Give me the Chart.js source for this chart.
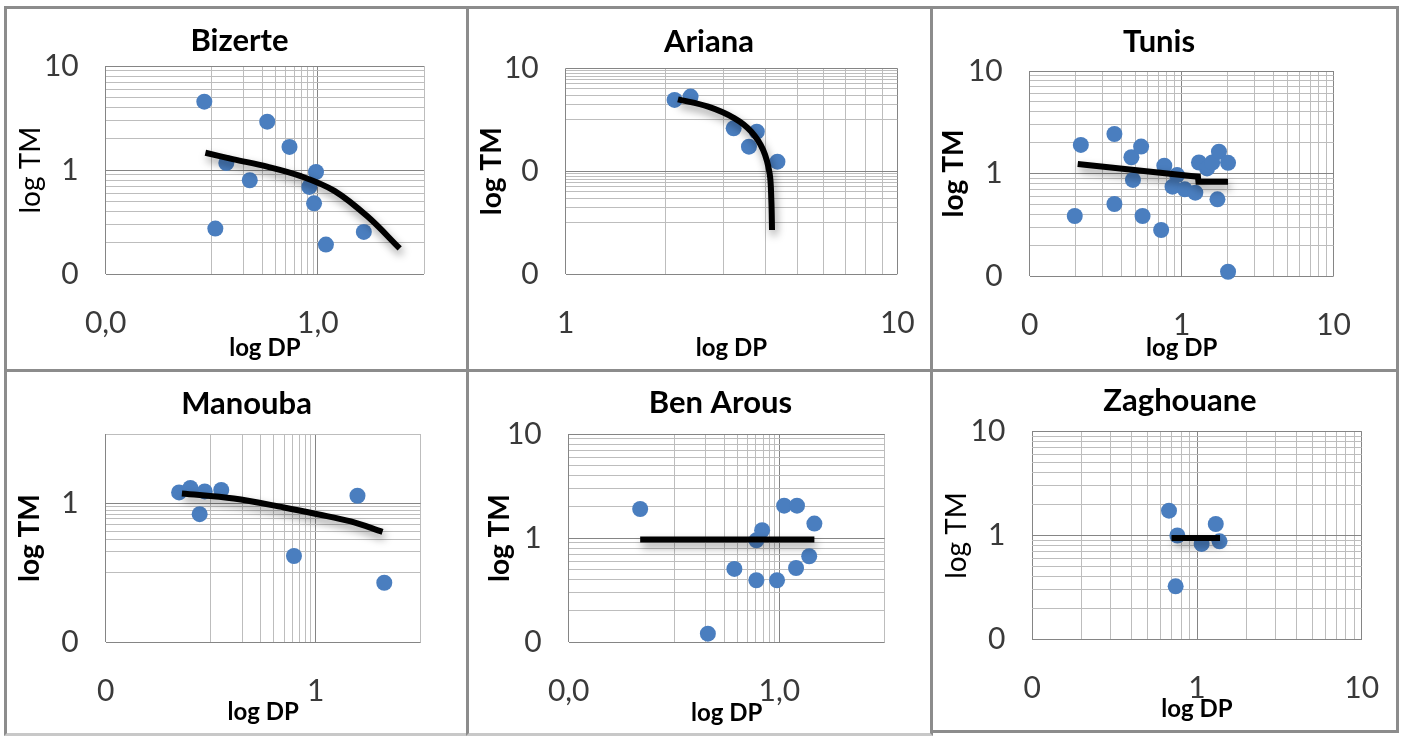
<!DOCTYPE html>
<html><head><meta charset="utf-8">
<script src="https://cdn.jsdelivr.net/npm/chart.js@4.4.1/dist/chart.umd.min.js"></script>
<style>
html,body{margin:0;padding:0;background:#fff;overflow:hidden;width:1407px;height:736px;}
.cell{position:absolute;box-sizing:border-box;border:3px solid #8c8c8c;}
canvas{position:absolute;}
</style></head><body>
<div class="cell" style="left:4px;top:6px;width:465px;height:366px"></div>
<div class="cell" style="left:466px;top:6px;width:467px;height:366px"></div>
<div class="cell" style="left:930px;top:6px;width:469px;height:366px"></div>
<div class="cell" style="left:4px;top:369px;width:465px;height:367px;border-bottom-color:#c8c8c8"></div>
<div class="cell" style="left:466px;top:369px;width:467px;height:367px;border-bottom-color:#c8c8c8"></div>
<div class="cell" style="left:930px;top:369px;width:469px;height:364px"></div>
<script>
// ---------- data ----------
const bizerteX = [0.085, 0.137, 0.228, 0.108, 0.333, 0.54, 0.96, 0.83, 0.92, 1.19, 2.71];
const bizerteY = [4.54, 1.17, 0.80, 0.275, 2.92, 1.67, 0.96, 0.69, 0.48, 0.193, 0.255];
const bizerteTrendX = [0.087, 0.161, 0.333, 0.69, 1.43, 2.96, 5.9];
const bizerteTrendY = [1.47, 1.27, 1.08, 0.875, 0.632, 0.356, 0.177];

const arianaX = [2.13, 2.38, 3.21, 3.77, 3.57, 4.35];
const arianaY = [2.43, 2.82, 0.684, 0.589, 0.301, 0.154];
const arianaTrendX = [2.18, 2.69, 3.23, 3.63, 3.94, 4.12, 4.17, 4.19];
const arianaTrendY = [2.50, 1.80, 1.07, 0.589, 0.26, 0.0914, 0.0277, 0.00726];

const tunisX = [0.217, 0.198, 0.361, 0.361, 0.467, 0.541, 0.478, 0.553, 0.733, 0.769, 0.871, 0.933, 1.048, 1.23, 1.30, 1.47, 1.59, 1.76, 2.02, 1.72, 2.02];
const tunisY = [1.90, 0.385, 2.43, 0.504, 1.44, 1.83, 0.865, 0.385, 0.281, 1.19, 0.744, 0.966, 0.701, 0.65, 1.28, 1.12, 1.28, 1.63, 1.27, 0.56, 0.110];
const tunisTrendX = [0.207, 1.28, 1.29, 2.02];
const tunisTrendY = [1.24, 0.931, 0.832, 0.832];

const manoubaX = [0.050, 0.064, 0.0877, 0.126, 0.0785, 0.621, 2.50, 4.50];
const manoubaY = [1.44, 1.67, 1.49, 1.56, 0.70, 0.175, 1.29, 0.072];
const manoubaTrendX = [0.0532, 0.166, 0.498, 1.04, 2.16, 4.33];
const manoubaTrendY = [1.395, 1.18, 0.875, 0.70, 0.55, 0.389];

const benArousX = [0.0477, 0.2095, 0.374, 0.605, 0.605, 0.686, 0.95, 1.11, 1.47, 1.44, 1.92, 2.15];
const benArousY = [1.905, 0.121, 0.506, 0.394, 0.953, 1.19, 0.394, 2.05, 2.05, 0.517, 0.67, 1.38];
const benArousTrendX = [0.0477, 2.15];
const benArousTrendY = [0.968, 0.968];

const zaghouaneX = [0.676, 0.76, 0.742, 1.067, 1.30, 1.37];
const zaghouaneY = [1.73, 1.0, 0.325, 0.83, 1.29, 0.88];
const zaghouaneTrendX = [0.70, 1.38];
const zaghouaneTrendY = [0.946, 0.946];

// tick labels
const ticksComma2 = [0.01, 1];      const ticksComma2Text = ['0,0', '1,0'];
const ticksInt2 = [0.01, 1];        const ticksInt2Text = ['0', '1'];
const ticksDec3 = [0.1, 1, 10];     const ticksDec3Text = ['0', '1', '10'];
const ticks1to10 = [1, 10];         const ticks1to10Text = ['1', '10'];
const ticksAriY = [0.001, 0.1, 10]; const ticksAriYText = ['0', '0', '10'];

// gridline sets
function decade(k) { return [1,2,3,4,5,6,7,8,9].map(m => parseFloat(m + 'e' + k)); }
const gridHalf = [0.01].concat(decade(-1), [1, 10]);            // 0.01..10, minor lines in 0.1-1
const gridFull2 = decade(-1).concat(decade(0), [10]);           // 0.1..10 full
const gridOne = decade(0).concat([10]);                         // 1..10
const gridAriY = [0.001].concat(decade(-2), [0.1], decade(0), [10]);

// ---------- panel layout (page pixels) ----------
const panels = [
  { title:'Bizerte', px:bizerteX, py:bizerteY, tx:bizerteTrendX, ty:bizerteTrendY, tension:0.35,
    x:{min:0.01,max:10,grid:gridHalf,tv:ticksComma2,tt:ticksComma2Text},
    y:{min:0.1,max:10,grid:gridFull2,tv:ticksDec3,tt:ticksDec3Text}, yBold:false,
    lay:{cx:7,cy:9,cw:465,ch:360,L:105.7,R:424,T:66,B:274.3,titleY:41,yTitleX:31.2,xTitleY:348} },
  { title:'Ariana', px:arianaX, py:arianaY, tx:arianaTrendX, ty:arianaTrendY, tension:0.35,
    x:{min:1,max:10,grid:gridOne,tv:ticks1to10,tt:ticks1to10Text},
    y:{min:0.001,max:10,grid:gridAriY,tv:ticksAriY,tt:ticksAriYText}, yBold:true,
    lay:{cx:469,cy:9,cw:480,ch:360,L:565.7,R:897.3,T:68.3,B:274.3,titleY:41.5,yTitleX:492,xTitleY:348} },
  { title:'Tunis', px:tunisX, py:tunisY, tx:tunisTrendX, ty:tunisTrendY, tension:0,
    x:{min:0.1,max:10,grid:gridFull2,tv:ticksDec3,tt:ticksDec3Text},
    y:{min:0.1,max:10,grid:gridFull2,tv:ticksDec3,tt:ticksDec3Text}, yBold:true,
    lay:{cx:933,cy:9,cw:452,ch:360,L:1029.7,R:1361.7,T:71,B:276,titleY:42,yTitleX:954,xTitleY:348} },
  { title:'Manouba', px:manoubaX, py:manoubaY, tx:manoubaTrendX, ty:manoubaTrendY, tension:0.35,
    x:{min:0.01,max:10,grid:gridHalf,tv:ticksInt2,tt:ticksInt2Text},
    y:{min:0.01,max:10,grid:gridHalf,tv:ticksInt2,tt:ticksInt2Text}, yBold:true,
    lay:{cx:7,cy:372,cw:479,ch:360,L:105.7,R:420.7,T:434,B:642.3,titleY:404,yTitleX:30,xTitleY:712} },
  { title:'Ben Arous', px:benArousX, py:benArousY, tx:benArousTrendX, ty:benArousTrendY, tension:0,
    x:{min:0.01,max:10,grid:gridHalf,tv:ticksComma2,tt:ticksComma2Text},
    y:{min:0.1,max:10,grid:gridFull2,tv:ticksDec3,tt:ticksDec3Text}, yBold:true,
    lay:{cx:469,cy:372,cw:503,ch:360,L:568.7,R:884.7,T:434,B:642.3,titleY:403,yTitleX:499.7,xTitleY:713} },
  { title:'Zaghouane', px:zaghouaneX, py:zaghouaneY, tx:zaghouaneTrendX, ty:zaghouaneTrendY, tension:0,
    x:{min:0.1,max:10,grid:gridFull2,tv:ticksDec3,tt:ticksDec3Text},
    y:{min:0.1,max:10,grid:gridFull2,tv:ticksDec3,tt:ticksDec3Text}, yBold:false,
    lay:{cx:933,cy:372,cw:494,ch:360,L:1032.3,R:1361.7,T:431.3,B:639.7,titleY:401,yTitleX:957.3,xTitleY:709.5} }
];

Chart.defaults.font.family = 'Lato';

const shadowPlugin = {
  id: 'trendShadow',
  beforeDatasetDraw(chart, args) {
    if (chart.data.datasets[args.index].isTrend) {
      const c = chart.ctx; c.save();
      c.shadowColor = 'rgba(0,0,0,0.4)'; c.shadowBlur = 8; c.shadowOffsetX = 2; c.shadowOffsetY = 5;
    }
  },
  afterDatasetDraw(chart, args) {
    if (chart.data.datasets[args.index].isTrend) chart.ctx.restore();
  }
};

const TITLE_SIZE = 31, TITLE_LH = 1.2, TICK_SIZE = 30, XT_SIZE = 24, YT_SIZE = 28;

function axisOpts(a, isX, lay, bold) {
  return {
    type: 'logarithmic', min: a.min, max: a.max, position: isX ? 'bottom' : 'left',
    afterBuildTicks: s => { s.ticks = a.grid.map(v => ({ value: v })); },
    afterFit: s => { if (isX) s.height = lay.cy + lay.ch - lay.B; else s.width = lay.L - lay.cx; },
    grid: { drawTicks: false, lineWidth: 1,
      color: c => (c.tick && a.tv.indexOf(c.tick.value) >= 0) ? '#858585' : '#bdbdbd' },
    border: { display: false },
    ticks: { autoSkip: false, maxRotation: 0, minRotation: 0, padding: isX ? 34 : 27,
      color: '#3a3a3a', font: { size: TICK_SIZE, lineHeight: 1 },
      callback: v => { const i = a.tv.indexOf(v); return i < 0 ? '' : a.tt[i]; } },
    title: { display: true, text: isX ? 'log DP' : 'log TM', color: '#000',
      font: { size: isX ? XT_SIZE : YT_SIZE, weight: bold ? 'bold' : 'normal', lineHeight: 1 },
      padding: isX ? { top: 0, bottom: (lay.cy + lay.ch - lay.xTitleY) - XT_SIZE / 2 }
                   : { top: (lay.yTitleX - lay.cx) - YT_SIZE / 2, bottom: 0 } }
  };
}

panels.forEach(p => {
  const lay = p.lay;
  const cv = document.createElement('canvas');
  cv.width = lay.cw; cv.height = lay.ch;
  cv.style.left = lay.cx + 'px'; cv.style.top = lay.cy + 'px';
  cv.style.width = lay.cw + 'px'; cv.style.height = lay.ch + 'px';
  document.body.appendChild(cv);
  const tPad = lay.titleY - lay.cy - TITLE_SIZE * TITLE_LH / 2;
  const bPad = (lay.T - lay.cy) - TITLE_SIZE * TITLE_LH - tPad;
  new Chart(cv, {
    type: 'scatter',
    data: { datasets: [
      { data: p.tx.map((x, i) => ({ x, y: p.ty[i] })), showLine: true, borderColor: '#000', backgroundColor: '#000',
        borderWidth: 6, pointRadius: 0, tension: p.tension, order: 0, clip: false, isTrend: true },
      { data: p.px.map((x, i) => ({ x, y: p.py[i] })), backgroundColor: '#4a7ebf', borderWidth: 0,
        pointRadius: 8, pointHoverRadius: 8, order: 1, clip: false }
    ]},
    options: {
      responsive: false, animation: false, devicePixelRatio: 1, events: [],
      layout: { padding: { left: 0, top: 0, right: 0, bottom: 0 } },
      plugins: {
        legend: { display: false }, tooltip: { enabled: false },
        title: { display: true, text: p.title, color: '#000', fullSize: true,
          font: { size: TITLE_SIZE, weight: 'bold', lineHeight: TITLE_LH }, padding: { top: tPad, bottom: bPad } }
      },
      scales: {
        x: axisOpts(p.x, true, lay, true),
        y: axisOpts(p.y, false, lay, p.yBold),
        yRight: { axis: 'y', type: 'linear', position: 'right', display: true,
          grid: { display: false }, ticks: { display: false }, border: { display: false },
          afterFit: s => { s.width = lay.cx + lay.cw - lay.R; } }
      }
    },
    plugins: [shadowPlugin]
  });
});
</script>
</body></html>
